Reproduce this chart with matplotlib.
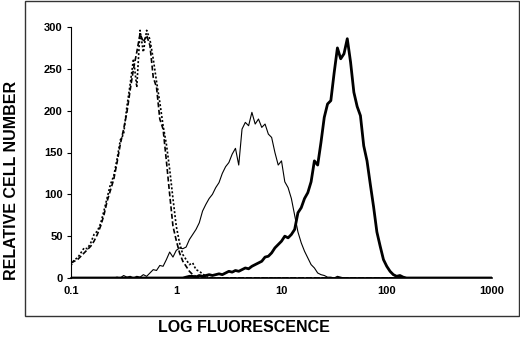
import numpy as np
import matplotlib
matplotlib.use("Agg")
import matplotlib.pyplot as plt
from matplotlib.patches import Rectangle

plt.rcParams['font.family'] = ['Liberation Sans', 'DejaVu Sans']

# channel axis: 32 channels per decade, 0.1 .. 1000
channels_per_decade = 32
n_channels = 129

# counts per channel (channel 0 = 0.1)
control_dashed = [18, 20, 22, 26, 30, 34, 38, 44, 52, 62, 75, 92, 105, 118, 138, 160,
                  178, 198, 225, 250, 270, 292, 282, 290, 278, 240, 228, 190, 178, 140,
                  100, 62, 45, 30, 20, 14, 8, 4, 2]
control_dotted = [15, 22, 24, 30, 36, 35, 42, 52, 56, 65, 80, 96, 112, 122, 142, 165,
                  172, 205, 232, 262, 228, 296, 270, 296, 285, 262, 235, 210, 182, 160,
                  130, 95, 62, 42, 28, 22, 16, 18, 10, 8, 5, 2]
thin_start = 14
thin_counts = [1, 0, 3, 1, 2, 0, 2, 1, 4, 2, 6, 10, 9, 15, 14, 22, 31, 25, 33, 36,
               35, 37, 46, 52, 58, 66, 80, 88, 95, 100, 108, 114, 125, 133, 138, 148,
               155, 135, 178, 186, 182, 198, 184, 190, 180, 184, 172, 168, 150, 135,
               140, 115, 108, 95, 75, 55, 42, 32, 24, 16, 12, 6, 4, 3, 1, 1, 0, 2, 1]
thick_start = 35
thick_counts = [1, 2, 2, 1, 3, 2, 3, 4, 3, 4, 5, 4, 6, 8, 7, 9, 8, 10, 12, 11, 14,
                16, 18, 20, 25, 26, 30, 36, 40, 44, 50, 48, 52, 58, 78, 84, 95, 102,
                115, 140, 135, 162, 192, 208, 212, 245, 275, 262, 268, 286, 258, 222,
                205, 194, 158, 140, 112, 85, 55, 38, 22, 14, 8, 4, 2, 3, 1]

x_ticks = [0.1, 1, 10, 100, 1000]
x_ticklabels = ['0.1', '1', '10', '100', '1000']
y_ticks = [0, 50, 100, 150, 200, 250, 300]


def full(counts, start=0):
    arr = np.zeros(n_channels)
    arr[start:start + len(counts)] = counts
    return arr


ch = np.arange(n_channels)
fluor = 10.0 ** (ch / channels_per_decade - 1)

fig = plt.figure(figsize=(5.2, 3.44), dpi=100)
ax = fig.add_axes([71 / 520, 1 - 278 / 344, 421 / 520, 251 / 344])

ax.plot(fluor, full(control_dotted), color='black', lw=1.2, ls=(0, (1.2, 1.2)))
ax.plot(fluor, full(control_dashed), color='black', lw=1.2, ls=(0, (3, 1.5)))
ax.plot(fluor, full(thin_counts, thin_start), color='black', lw=0.8)
ax.plot(fluor, full(thick_counts, thick_start), color='black', lw=2.0)

ax.set_xscale('log')
ax.set_xlim(0.1, 1000)
ax.set_ylim(0, 300)
ax.set_xticks(x_ticks)
ax.set_xticklabels(x_ticklabels)
ax.minorticks_off()
ax.set_yticks(y_ticks)
ax.tick_params(axis='x', length=0, pad=6, labelsize=8)
ax.tick_params(axis='y', length=3, width=0.8, pad=3, labelsize=8)
for lab in ax.get_xticklabels() + ax.get_yticklabels():
    lab.set_fontweight('bold')
for side in ['top', 'right']:
    ax.spines[side].set_visible(False)
ax.spines['left'].set_linewidth(0.8)
ax.spines['bottom'].set_linewidth(1.2)

# outer frame round the plot
fig.patches.append(Rectangle((25 / 520, 1 - 316 / 344), 494 / 520, 315 / 344,
                             transform=fig.transFigure, fill=False,
                             edgecolor='#333333', lw=1.0))

fig.text(12 / 520, 1 - 180 / 344, 'RELATIVE CELL NUMBER', rotation=90,
         ha='center', va='center', fontsize=11.5, fontweight='bold')
fig.text(244 / 520, 1 - 328 / 344, 'LOG FLUORESCENCE',
         ha='center', va='center', fontsize=11.5, fontweight='bold')

fig.savefig('out.png', dpi=100)
